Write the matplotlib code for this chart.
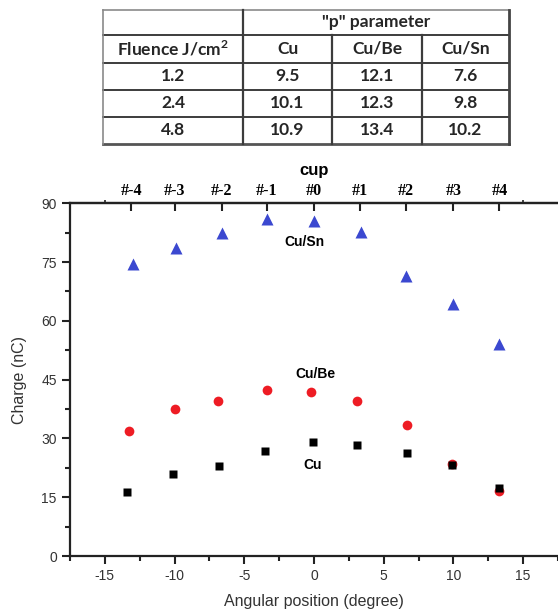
import numpy as np
import matplotlib
matplotlib.use('Agg')
import matplotlib.pyplot as plt
from matplotlib.ticker import MultipleLocator, FixedLocator

# ---- data ----
# table
tab_header = ['Fluence J/cm$^{\\mathbf{2}}$', 'Cu', 'Cu/Be', 'Cu/Sn']
tab_group = '"p" parameter'
fluence = ['1.2', '2.4', '4.8']
p_cu = ['9.5', '10.1', '10.9']
p_cube = ['12.1', '12.3', '13.4']
p_cusn = ['7.6', '9.8', '10.2']

# scatter
cu_x = [-13.4, -10.1, -6.8, -3.5, -0.1, 3.1, 6.7, 9.9, 13.3]
cu_y = [16.4, 20.8, 22.9, 26.7, 29.0, 28.2, 26.4, 23.1, 17.3]
cube_x = [-13.3, -10.0, -6.9, -3.4, -0.2, 3.1, 6.7, 9.9, 13.3]
cube_y = [31.8, 37.5, 39.5, 42.3, 41.8, 39.5, 33.4, 23.6, 16.6]
cusn_x = [-13.0, -9.9, -6.6, -3.4, 0.0, 3.4, 6.6, 10.0, 13.3]
cusn_y = [74.5, 78.5, 82.4, 86.1, 85.4, 82.8, 71.4, 64.2, 54.0]

cup_pos = [-13.1, -10.0, -6.6, -3.4, 0.0, 3.3, 6.6, 10.0, 13.3]
cup_lab = ['#-4', '#-3', '#-2', '#-1', '#0', '#1', '#2', '#3', '#4']

W, H = 558, 612
plt.rcParams['font.family'] = ['Liberation Sans', 'DejaVu Sans']
plt.rcParams['axes.unicode_minus'] = False
plt.rcParams['mathtext.fontset'] = 'custom'
plt.rcParams['mathtext.bf'] = 'Lato:bold'
plt.rcParams['mathtext.rm'] = 'Lato:bold'
fig = plt.figure(figsize=(W/100, H/100), dpi=100)

# ---- table (drawn in pixel coords of the figure) ----
tx = fig.add_axes([0, 0, 1, 1])
tx.set_xlim(0, W)
tx.set_ylim(H, 0)
tx.axis('off')
col_e = [103, 243, 332, 422, 509]
row_e = [9.5, 35, 62.5, 89.5, 117, 143.5]
lc = '#3c3c3c'
# horizontal lines
tx.plot([col_e[0], col_e[-1]], [row_e[0], row_e[0]], color='#8a8a8a', lw=1.2)
for r in row_e[1:-1]:
    tx.plot([col_e[0], col_e[-1]], [r, r], color=lc, lw=1.4)
tx.plot([col_e[0], col_e[-1]], [row_e[-1], row_e[-1]], color='#555555', lw=2.0)
# vertical lines
tx.plot([col_e[0], col_e[0]], [row_e[0], row_e[-1]], color='#8a8a8a', lw=1.2)
tx.plot([col_e[1], col_e[1]], [row_e[0], row_e[-1]], color=lc, lw=1.6)
for c in col_e[2:-1]:
    tx.plot([c, c], [row_e[1], row_e[-1]], color=lc, lw=1.6)
tx.plot([col_e[-1], col_e[-1]], [row_e[0], row_e[-1]], color='#444444', lw=2.0)

tfont = dict(family=['Lato', 'DejaVu Sans'], fontweight='bold', fontsize=12.5,
             color='#262626', ha='center', va='center')
tx.text((col_e[1]+col_e[-1])/2, (row_e[0]+row_e[1])/2, tab_group, **tfont)
for j, h in enumerate(tab_header):
    tx.text((col_e[j]+col_e[j+1])/2, (row_e[1]+row_e[2])/2, h, **tfont)
cols = [fluence, p_cu, p_cube, p_cusn]
for j, col in enumerate(cols):
    for i, v in enumerate(col):
        tx.text((col_e[j]+col_e[j+1])/2, (row_e[i+2]+row_e[i+3])/2, v, **tfont)

# ---- scatter plot ----
ax = fig.add_axes([70/W, 1-556/H, 1-70/W, (556-203.3)/H])
ax.plot(cusn_x, cusn_y, '^', color='#3b48d0', ms=8.5, mec='none', zorder=3)
ax.plot(cube_x, cube_y, 'o', color='#ee1c24', ms=7, mec='none', zorder=3)
ax.plot(cu_x, cu_y, 's', color='black', ms=6.3, mec='none', zorder=4)

ax.text(-0.7, 80.0, 'Cu/Sn', fontsize=10, fontweight='bold', ha='center', va='center')
ax.text(0.1, 46.4, 'Cu/Be', fontsize=10, fontweight='bold', ha='center', va='center')
ax.text(-0.1, 23.1, 'Cu', fontsize=10, fontweight='bold', ha='center', va='center')

ax.set_xlim(-17.5, 17.5)
ax.set_ylim(0, 90)
ax.xaxis.set_major_locator(MultipleLocator(5))
ax.xaxis.set_minor_locator(MultipleLocator(2.5))
ax.yaxis.set_major_locator(MultipleLocator(15))
ax.yaxis.set_minor_locator(MultipleLocator(7.5))
ax.tick_params(which='major', direction='out', length=6, width=1.5, labelsize=10,
               colors='#222222', labelcolor='#333333')
ax.tick_params(which='minor', direction='out', length=3.5, width=1.5, colors='#222222')
ax.set_xlabel('Angular position (degree)', fontsize=11.5, color='#333333', labelpad=8)
ax.set_ylabel('Charge (nC)', fontsize=11.5, color='#333333', labelpad=10)
for s in ['left', 'bottom', 'top']:
    ax.spines[s].set_linewidth(1.6)
    ax.spines[s].set_color('#222222')
ax.spines['right'].set_visible(False)

# top axis: cup numbers
ax2 = ax.twiny()
ax2.set_xlim(ax.get_xlim())
ax2.xaxis.set_major_locator(FixedLocator(cup_pos))
ax2.set_xticklabels(cup_lab, family=['Liberation Serif'], fontweight='bold', fontsize=11.5)
ax2.xaxis.set_minor_locator(FixedLocator([-15, 15]))
ax2.tick_params(which='major', direction='in', length=6, width=1.5, pad=3, colors='#222222',
                labelcolor='black')
ax2.tick_params(which='minor', direction='out', length=2.5, width=1.2, colors='#222222')
ax2.set_xlabel('cup', fontsize=12, fontweight='bold', labelpad=6)
for s in ['left', 'bottom', 'right']:
    ax2.spines[s].set_visible(False)
ax2.spines['top'].set_linewidth(1.6)
ax2.spines['top'].set_color('#222222')

fig.savefig('out.png', dpi=100)
